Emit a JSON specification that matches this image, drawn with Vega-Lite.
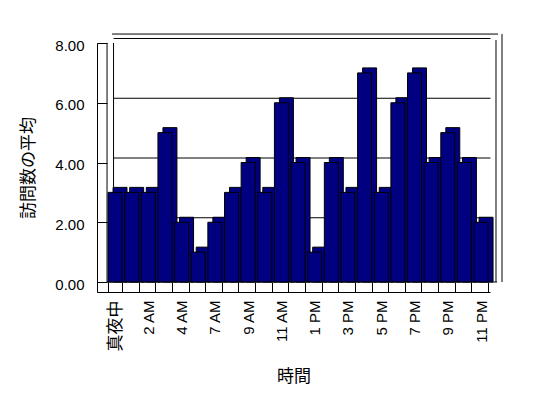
{
  "$schema": "https://vega.github.io/schema/vega-lite/v6.json",
  "width": 393,
  "height": 249,
  "autosize": {"type": "none"},
  "padding": {"left": 97, "top": 43, "right": 58, "bottom": 106},
  "background": "white",
  "config": {
    "view": {"stroke": null},
    "axis": {"domainColor": "black", "tickColor": "black", "labelColor": "black", "titleColor": "black", "grid": false}
  },
  "datasets": {
    "visits": [
      {"hour": "真夜中", "visits": 3},
      {"hour": "1 AM", "visits": 3},
      {"hour": "2 AM", "visits": 3},
      {"hour": "3 AM", "visits": 5},
      {"hour": "4 AM", "visits": 2},
      {"hour": "5 AM", "visits": 1},
      {"hour": "7 AM", "visits": 2},
      {"hour": "8 AM", "visits": 3},
      {"hour": "9 AM", "visits": 4},
      {"hour": "10 AM", "visits": 3},
      {"hour": "11 AM", "visits": 6},
      {"hour": "正午", "visits": 4},
      {"hour": "1 PM", "visits": 1},
      {"hour": "2 PM", "visits": 4},
      {"hour": "3 PM", "visits": 3},
      {"hour": "4 PM", "visits": 7},
      {"hour": "5 PM", "visits": 3},
      {"hour": "6 PM", "visits": 6},
      {"hour": "7 PM", "visits": 7},
      {"hour": "8 PM", "visits": 4},
      {"hour": "9 PM", "visits": 5},
      {"hour": "10 PM", "visits": 4},
      {"hour": "11 PM", "visits": 2}
    ],
    "grid": [{"v": 2}, {"v": 4}, {"v": 6}, {"v": 8}],
    "one": [{"k": 1}]
  },
  "layer": [
    {
      "data": {"name": "visits"},
      "mark": {"type": "bar", "fill": "#000080", "stroke": "black", "strokeWidth": 1, "opacity": 0},
      "encoding": {
        "x": {
          "field": "hour", "type": "nominal", "title": "時間",
          "scale": {"type": "band", "domain": ["真夜中","1 AM","2 AM","3 AM","4 AM","5 AM","7 AM","8 AM","9 AM","10 AM","11 AM","正午","1 PM","2 PM","3 PM","4 PM","5 PM","6 PM","7 PM","8 PM","9 PM","10 PM","11 PM"], "paddingInner": 0.16, "paddingOuter": 0.39, "align": 0.85},
          "axis": {
            "title": "時間", "titleFont": "Noto Sans CJK JP", "titleFontSize": 17, "titleFontWeight": "normal", "titlePadding": 18,
            "labelAngle": 270, "labelFont": "Liberation Sans, Noto Sans CJK JP",
            "labelFontSize": {"condition": {"test": "datum.label == '真夜中'", "value": 17}, "value": 15},
            "labelPadding": 18,
            "labelExpr": "indexof(['真夜中','2 AM','4 AM','7 AM','9 AM','11 AM','1 PM','3 PM','5 PM','7 PM','9 PM','11 PM'], datum.label) >= 0 ? datum.label : ''",
            "tickBand": "extent", "tickSize": -10, "domain": true, "ticks": true
          }
        },
        "y": {
          "field": "visits", "type": "quantitative", "title": "訪問数の平均",
          "scale": {"domain": [-0.3347, 8], "nice": false, "zero": false},
          "axis": {
            "title": "訪問数の平均", "titleFont": "Noto Sans CJK JP", "titleFontSize": 17, "titleFontWeight": "normal", "titlePadding": 17,
            "values": [0, 2, 4, 6, 8], "format": ".2f", "labelFont": "Liberation Sans", "labelFontSize": 15, "labelPadding": 23, "labelOffset": 2,
            "tickSize": -10, "ticks": true, "domain": true
          }
        },
        "y2": {"datum": 0}
      }
    },
    {
      "data": {"name": "grid"},
      "mark": {"type": "rule", "color": "black", "xOffset": 5.5, "yOffset": -4.5},
      "encoding": {
        "x": {"datum": "真夜中", "bandPosition": 0, "type": "nominal", "title": "時間"},
        "x2": {"datum": "11 PM", "bandPosition": 1.175},
        "y": {"field": "v", "type": "quantitative", "title": "訪問数の平均"}
      }
    },
    {
      "data": {"name": "one"},
      "mark": {"type": "rule", "color": "black", "xOffset": 5.5, "yOffset": -4.5},
      "encoding": {
        "x": {"datum": "真夜中", "bandPosition": 0, "type": "nominal", "title": "時間"},
        "y": {"datum": 0, "type": "quantitative", "title": "訪問数の平均"},
        "y2": {"datum": 8}
      }
    },
    {
      "data": {"name": "one"},
      "mark": {"type": "rule", "color": "black", "xOffset": 5.5},
      "encoding": {
        "x": {"datum": "11 PM", "bandPosition": 1.175, "type": "nominal", "title": "時間"},
        "y": {"datum": 0, "type": "quantitative", "title": "訪問数の平均"},
        "y2": {"datum": 8.1}
      }
    },
    {
      "data": {"name": "one"},
      "mark": {"type": "rule", "color": "black", "xOffset": 5.5},
      "encoding": {
        "x": {"datum": "11 PM", "bandPosition": 1.605, "type": "nominal", "title": "時間"},
        "y": {"datum": 0, "type": "quantitative", "title": "訪問数の平均"},
        "y2": {"datum": 8.3}
      }
    },
    {
      "data": {"name": "one"},
      "mark": {"type": "rule", "color": "black", "xOffset": 4},
      "encoding": {
        "x": {"datum": "真夜中", "bandPosition": 0, "type": "nominal", "title": "時間"},
        "x2": {"datum": "11 PM", "bandPosition": 1.712},
        "y": {"datum": 8.3, "type": "quantitative", "title": "訪問数の平均"}
      }
    },
    {
      "data": {"name": "one"},
      "mark": {"type": "rule", "color": "black", "xOffset": -1},
      "encoding": {
        "x": {"datum": "真夜中", "bandPosition": 0, "type": "nominal", "title": "時間"},
        "y": {"datum": 0, "type": "quantitative", "title": "訪問数の平均"},
        "y2": {"datum": 8}
      }
    },
    {
      "data": {"name": "one"},
      "mark": {"type": "rule", "color": "black", "xOffset": -1},
      "encoding": {
        "x": {"datum": "真夜中", "bandPosition": 0, "type": "nominal", "title": "時間"},
        "x2": {"datum": "11 PM", "bandPosition": 1.646},
        "y": {"datum": 0, "type": "quantitative", "title": "訪問数の平均"}
      }
    },
    {
      "data": {"name": "visits"},
      "mark": {"type": "bar", "fill": "#000080", "stroke": "black", "strokeWidth": 1, "xOffset": 5, "yOffset": -5},
      "encoding": {
        "x": {"field": "hour", "type": "nominal", "title": "時間"},
        "y": {"field": "visits", "type": "quantitative", "title": "訪問数の平均"},
        "y2": {"datum": 0}
      }
    },
    {
      "data": {"name": "visits"},
      "mark": {"type": "bar", "fill": "#000080", "stroke": "black", "strokeWidth": 1},
      "encoding": {
        "x": {"field": "hour", "type": "nominal", "title": "時間"},
        "y": {"field": "visits", "type": "quantitative", "title": "訪問数の平均"},
        "y2": {"datum": 0}
      }
    }
  ]
}
